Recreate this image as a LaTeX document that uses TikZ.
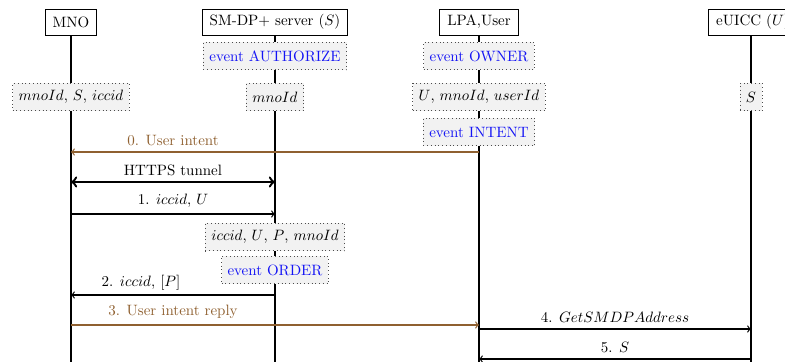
\documentclass[tikz,border=0pt]{standalone}
\usetikzlibrary{backgrounds}
\definecolor{msgbrown}{RGB}{143,96,48}
\definecolor{notefill}{RGB}{242,242,242}
\definecolor{evblue}{RGB}{20,20,245}
\begin{document}
\begin{tikzpicture}[x=0.6667pt,y=-0.6667pt,
  actor/.style={draw,line width=0.6pt,minimum height=17.3pt,inner xsep=5pt,inner ysep=2pt,fill=white},
  note/.style={draw=black!70,dotted,line width=0.5pt,fill=notefill,inner xsep=4pt,inner ysep=2pt,minimum height=18.5pt},
  ev/.style={note,text=evblue},
  life/.style={line width=1pt},
  msg/.style={->,line width=0.8pt},
  bmsg/.style={msg,draw=msgbrown},
  lbl/.style={above,inner sep=4pt},
  blbl/.style={lbl,text=msgbrown},
]
\useasboundingbox (0,0) rectangle (785,362);
\clip (0,0) rectangle (785,362);

% actors
\node[actor] (mno) at (71,22) {MNO};
\node[actor] (smdp) at (275,22) {SM-DP+ server ($S$)};
\node[actor] (lpa) at (479,22) {LPA,User};
\node[actor] (euicc) at (753,22) {eUICC ($U$)};

% lifeline ends
\coordinate (mnoEnd) at (71,366);
\coordinate (smdpEnd) at (275,366);
\coordinate (lpaEnd) at (479,366);
\coordinate (euiccEnd) at (751,366);

% notes
\node[ev] (nauth) at (275,56) {event AUTHORIZE};
\node[note] (nmno) at (71,97) {$mnoId$, $S$, $iccid$};
\node[note] (nsmdp) at (275,97) {$mnoId$};
\node[ev] (nowner) at (479,56) {event OWNER};
\node[note] (nlpa) at (479,97) {$U$, $mnoId$, $userId$};
\node[ev] (nintent) at (479,132) {event INTENT};
\node[note] (neuicc) at (751,97) {$S$};
\node[note] (norderd) at (275,237) {$iccid$, $U$, $P$, $mnoId$};
\node[ev] (norder) at (275,270) {event ORDER};

\begin{scope}[on background layer]
  \draw[life] (mno.south) -- (mnoEnd);
  \draw[life] (smdp.south) -- (smdpEnd);
  \draw[life] (lpa.south) -- (lpaEnd);
  \draw[life] (euicc.south -| euiccEnd) -- (euiccEnd);
\end{scope}

% message end points
\coordinate (m0s) at (479,152); \coordinate (m0e) at (71,152);
\coordinate (tks) at (71,182);  \coordinate (tke) at (275,182);
\coordinate (m1s) at (71,214);  \coordinate (m1e) at (275,214);
\coordinate (m2s) at (275,295); \coordinate (m2e) at (71,295);
\coordinate (m3s) at (71,325);  \coordinate (m3e) at (479,325);
\coordinate (m4s) at (479,329); \coordinate (m4e) at (751,329);
\coordinate (m5s) at (751,359); \coordinate (m5e) at (479,359);

\draw[bmsg] (m0s) -- node[blbl,pos=0.75] (l0) {0. User intent} (m0e);
\draw[<->,line width=1.6pt] (tks) -- node[lbl,inner sep=3pt] (lt) {HTTPS tunnel} (tke);
\draw[msg] (m1s) -- node[lbl] (l1) {1. $iccid$, $U$} (m1e);
\draw[msg] (m2s) -- node[lbl,pos=0.657,inner sep=2.5pt] (l2) {2. $iccid$, $[P]$} (m2e);
\draw[bmsg] (m3s) -- node[blbl,pos=0.25] (l3) {3. User intent reply} (m3e);
\draw[msg] (m4s) -- node[lbl] (l4) {4. $GetSMDPAddress$} (m4e);
\draw[msg] (m5s) -- node[lbl] (l5) {5. $S$} (m5e);
\end{tikzpicture}
\end{document}
